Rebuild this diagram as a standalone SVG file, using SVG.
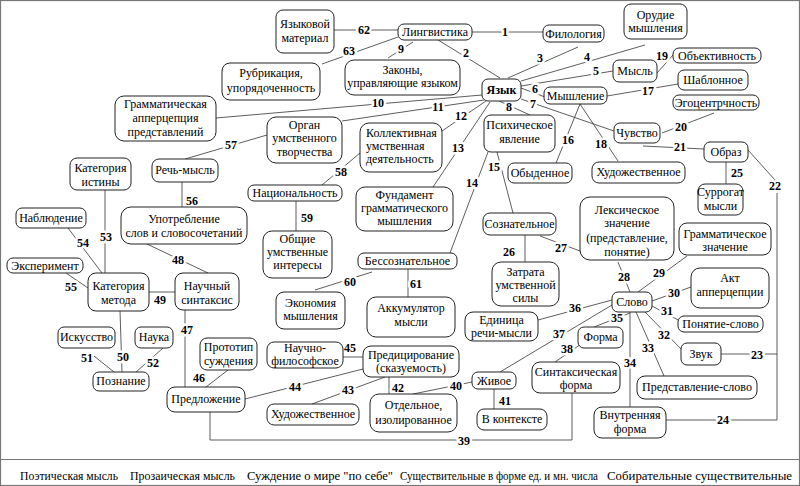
<svg xmlns="http://www.w3.org/2000/svg" width="800" height="486" viewBox="0 0 800 486">
<style>
text{font-family:"Liberation Serif","Times New Roman",serif;font-size:12px;fill:#000}
.n rect{fill:#fff;stroke:#222;stroke-width:1}
.n text{text-anchor:middle}
.n text.s{text-anchor:start}
.c path{stroke:#333;stroke-width:0.8;fill:none}
.l text{font-weight:bold;text-anchor:middle;paint-order:stroke;stroke:#fff;stroke-width:5px;stroke-linejoin:round}
.f{stroke:#777;stroke-width:1.2;fill:none}
#footer text{font-size:11.8px}
</style>
<rect class="f" x="0.5" y="0.5" width="799" height="485"/>
<path class="f" d="M0,459.5H800"/>
<g class="c">
<path d="M472,32H543"/><path d="M334,30H398"/><path d="M398,37L322,64"/><path d="M413,42L388,58"/><path d="M438,40L500,78"/>
<path d="M508,78L578,47"/><path d="M521,81L645,45"/><path d="M521,86L613,71"/><path d="M521,88L545,97"/><path d="M521,99L614,131"/>
<path d="M499,101L530,115"/><path d="M482,95L216,118"/><path d="M484,100L342,121"/><path d="M486,101L442,131"/><path d="M490,102L433,187"/>
<path d="M488,152L450,253"/><path d="M497,152L513,213"/><path d="M580,104L556,163"/><path d="M607,96L678,84"/><path d="M580,104L618,161"/>
<path d="M657,73L673,55"/><path d="M662,133L714,113"/><path d="M643,146L704,149"/><path d="M748,150L775,180M777,193V420H666"/><path d="M721,354H777"/>
<path d="M726,162V184"/><path d="M525,235V262"/><path d="M540,236L580,251"/><path d="M618,262L630,292"/><path d="M687,256L638,292"/>
<path d="M652,301L691,287"/><path d="M652,306L680,321"/><path d="M645,312L682,350"/><path d="M636,312L664,376"/><path d="M630,312V407"/>
<path d="M630,313L594,327"/><path d="M612,300L538,320"/><path d="M612,305L500,372"/><path d="M584,342L555,362"/><path d="M210,412V440H572V393"/>
<path d="M472,382L413,394"/><path d="M494,389V409"/><path d="M389,377V394"/><path d="M312,404L385,377"/><path d="M245,399L363,369"/>
<path d="M343,357H363"/><path d="M228,370L206,387"/><path d="M185,310V387"/><path d="M147,244L208,273"/><path d="M149,292H175"/>
<path d="M120,311L122,372"/><path d="M94,356L114,372"/><path d="M163,348L136,372"/><path d="M105,190V273"/><path d="M68,228L102,273"/>
<path d="M66,273L88,288"/><path d="M182,182V207"/><path d="M267,135L185,159"/><path d="M360,153L322,185"/><path d="M296,201V231"/>
<path d="M372,272L315,290"/><path d="M408,269V297"/>
</g>
<g class="l">
<text x="505" y="36">1</text><text x="364" y="34">62</text><text x="349" y="55">63</text><text x="401" y="53">9</text><text x="466" y="57">2</text>
<text x="540" y="62">3</text><text x="587" y="61">4</text><text x="596" y="75">5</text><text x="535" y="93">6</text><text x="533" y="108">7</text>
<text x="509" y="111">8</text><text x="378" y="107">10</text><text x="438" y="111">11</text><text x="461" y="120">12</text><text x="458" y="152">13</text>
<text x="472" y="187">14</text><text x="494" y="171">15</text><text x="568" y="144">16</text><text x="648" y="95">17</text><text x="601" y="148">18</text>
<text x="662" y="60">19</text><text x="681" y="131">20</text><text x="680" y="151">21</text><text x="775" y="190">22</text><text x="757" y="359">23</text>
<text x="723" y="424">24</text><text x="737" y="177">25</text><text x="509" y="256">26</text><text x="561" y="252">27</text><text x="624" y="281">28</text>
<text x="659" y="277">29</text><text x="674" y="297">30</text><text x="667" y="315">31</text><text x="664" y="339">32</text><text x="648" y="352">33</text>
<text x="630" y="367">34</text><text x="617" y="322">35</text><text x="575" y="312">36</text><text x="559" y="338">37</text><text x="567" y="353">38</text>
<text x="464" y="445">39</text><text x="456" y="390">40</text><text x="505" y="405">41</text><text x="398" y="392">42</text><text x="348" y="394">43</text>
<text x="295" y="391">44</text><text x="350" y="352">45</text><text x="199" y="382">46</text><text x="187" y="334">47</text><text x="178" y="264">48</text>
<text x="160" y="304">49</text><text x="123" y="361">50</text><text x="87" y="362">51</text><text x="153" y="367">52</text><text x="106" y="241">53</text>
<text x="83" y="247">54</text><text x="71" y="291">55</text><text x="192" y="205">56</text><text x="231" y="149">57</text><text x="341" y="176">58</text>
<text x="307" y="222">59</text><text x="350" y="286">60</text><text x="416" y="288">61</text>
</g>
<g id="n1" class="n"><rect x="276" y="10" width="58" height="43" rx="7"/><text x="305" y="28">Языковой</text><text x="305" y="42">материал</text></g>
<g id="n2" class="n"><rect x="398" y="24" width="74" height="16" rx="6"/><text x="435" y="36">Лингвистика</text></g>
<g id="n3" class="n"><rect x="543" y="25" width="61" height="17" rx="6"/><text x="573.5" y="38">Филология</text></g>
<g id="n4" class="n"><rect x="624" y="4" width="63" height="35" rx="7"/><text x="655.5" y="19">Орудие</text><text x="655.5" y="32">мышления</text></g>
<g id="n5" class="n"><rect x="673" y="48" width="88" height="15" rx="6"/><text x="717" y="60">Объективность</text></g>
<g id="n6" class="n"><rect x="613" y="60" width="44" height="22" rx="6"/><text x="635" y="75">Мысль</text></g>
<g id="n7" class="n"><rect x="678" y="70" width="70" height="20" rx="6"/><text x="713" y="84">Шаблонное</text></g>
<g id="n8" class="n"><rect x="673" y="95" width="86" height="15" rx="6"/><text x="716" y="107">Эгоцентрчность</text></g>
<g id="n9" class="n"><rect x="544" y="87" width="63" height="17" rx="6"/><text x="575.5" y="100">Мышление</text></g>
<g id="n10" class="n"><rect x="614" y="123" width="46" height="20" rx="6"/><text x="637" y="137">Чувство</text></g>
<g id="n11" class="n"><rect x="704" y="142" width="44" height="20" rx="6"/><text x="726" y="156">Образ</text></g>
<g id="n12" class="n"><rect x="698" y="184" width="45" height="31" rx="7"/><text x="720.5" y="196">Суррогат</text><text x="720.5" y="210">мысли</text></g>
<g id="n13" class="n"><rect x="592" y="162" width="93" height="21" rx="7"/><text x="638.5" y="176">Художественное</text></g>
<g id="n14" class="n"><rect x="508" y="163" width="64" height="20" rx="6"/><text x="540" y="177">Обыденное</text></g>
<g id="n15" class="n"><rect x="484" y="115" width="71" height="37" rx="7"/><text x="519.5" y="129">Психическое</text><text x="519.5" y="143">явление</text></g>
<g id="n16" class="n"><rect x="482" y="79" width="39" height="22" rx="6"/><text x="501.5" y="94" font-weight="bold">Язык</text></g>
<g id="n17" class="n"><rect x="345" y="60" width="115" height="35" rx="9"/><text x="402.5" y="74">Законы,</text><text x="402.5" y="87">управляющие языком</text></g>
<g id="n18" class="n"><rect x="222" y="63" width="98" height="37" rx="8"/><text x="271" y="77">Рубрикация,</text><text x="271" y="92">упорядоченность</text></g>
<g id="n19" class="n"><rect x="115" y="96" width="101" height="45" rx="9"/><text x="165.5" y="108">Грамматическая</text><text x="165.5" y="122">апперцепция</text><text x="165.5" y="136">представлений</text></g>
<g id="n20" class="n"><rect x="267" y="117" width="75" height="46" rx="9"/><text x="304.5" y="129">Орган</text><text x="304.5" y="142">умственного</text><text x="304.5" y="156">творчества</text></g>
<g id="n21" class="n"><rect x="360" y="123" width="82" height="49" rx="9"/><text class="s" x="366" y="137">Коллективная</text><text class="s" x="366" y="150">умственная</text><text class="s" x="366" y="163">деятельность</text></g>
<g id="n22" class="n"><rect x="356" y="187" width="97" height="44" rx="9"/><text x="404.5" y="199">Фундамент</text><text x="404.5" y="212">грамматического</text><text x="404.5" y="225">мышления</text></g>
<g id="n23" class="n"><rect x="70" y="158" width="61" height="32" rx="7"/><text x="100.5" y="172">Категория</text><text x="100.5" y="186">истины</text></g>
<g id="n24" class="n"><rect x="152" y="159" width="66" height="23" rx="7"/><text x="185" y="174">Речь-мысль</text></g>
<g id="n25" class="n"><rect x="248" y="185" width="94" height="16" rx="6"/><text x="295" y="197">Национальность</text></g>
<g id="n26" class="n"><rect x="16" y="208" width="70" height="20" rx="6"/><text x="51" y="222">Наблюдение</text></g>
<g id="n27" class="n"><rect x="121" y="207" width="126" height="37" rx="10"/><text x="184" y="223">Употребление</text><text x="184" y="237">слов и словосочетаний</text></g>
<g id="n28" class="n"><rect x="263" y="231" width="69" height="47" rx="9"/><text x="297.5" y="243">Общие</text><text x="297.5" y="256">умственные</text><text x="297.5" y="269">интересы</text></g>
<g id="n29" class="n"><rect x="483" y="213" width="73" height="22" rx="7"/><text x="519.5" y="228">Сознательное</text></g>
<g id="n30" class="n"><rect x="580" y="197" width="94" height="63" rx="10"/><text x="627" y="214">Лексическое</text><text x="627" y="227">значение</text><text x="627" y="242">(представление,</text><text x="627" y="256">понятие)</text></g>
<g id="n31" class="n"><rect x="679" y="223" width="92" height="32" rx="8"/><text x="725" y="238">Грамматическое</text><text x="725" y="251">значение</text></g>
<g id="n32" class="n"><rect x="358" y="253" width="99" height="16" rx="6"/><text x="407.5" y="265">Бессознательное</text></g>
<g id="n33" class="n"><rect x="7" y="258" width="76" height="15" rx="6"/><text x="45" y="270">Эксперимент</text></g>
<g id="n34" class="n"><rect x="88" y="273" width="61" height="38" rx="8"/><text x="118.5" y="290">Категория</text><text x="118.5" y="304">метода</text></g>
<g id="n35" class="n"><rect x="175" y="273" width="64" height="37" rx="8"/><text x="207" y="290">Научный</text><text x="207" y="304">синтаксис</text></g>
<g id="n36" class="n"><rect x="276" y="292" width="69" height="37" rx="8"/><text x="310.5" y="307">Экономия</text><text x="310.5" y="320">мышления</text></g>
<g id="n37" class="n"><rect x="367" y="297" width="88" height="40" rx="9"/><text x="411" y="312">Аккумулятор</text><text x="411" y="326">мысли</text></g>
<g id="n38" class="n"><rect x="492" y="262" width="67" height="44" rx="9"/><text x="525.5" y="276">Затрата</text><text x="525.5" y="289">умственной</text><text x="525.5" y="302">силы</text></g>
<g id="n39" class="n"><rect x="691" y="268" width="78" height="40" rx="9"/><text x="730" y="282">Акт</text><text x="730" y="296">апперцепции</text></g>
<g id="n40" class="n"><rect x="612" y="292" width="40" height="20" rx="6"/><text x="632" y="306">Слово</text></g>
<g id="n41" class="n"><rect x="465" y="312" width="73" height="29" rx="8"/><text x="501.5" y="324">Единица</text><text x="501.5" y="337">речи-мысли</text></g>
<g id="n42" class="n"><rect x="678" y="316" width="85" height="16" rx="6"/><text x="720.5" y="328">Понятие-слово</text></g>
<g id="n43" class="n"><rect x="578" y="327" width="45" height="21" rx="6"/><text x="600.5" y="341">Форма</text></g>
<g id="n44" class="n"><rect x="681" y="343" width="40" height="22" rx="6"/><text x="701" y="358">Звук</text></g>
<g id="n45" class="n"><rect x="58" y="327" width="57" height="21" rx="6"/><text x="86.5" y="341">Искусство</text></g>
<g id="n46" class="n"><rect x="135" y="327" width="38" height="21" rx="6"/><text x="154" y="341">Наука</text></g>
<g id="n47" class="n"><rect x="200" y="338" width="57" height="32" rx="7"/><text x="228.5" y="351">Прототип</text><text x="228.5" y="365">суждения</text></g>
<g id="n48" class="n"><rect x="267" y="342" width="76" height="26" rx="7"/><text x="305" y="352">Научно-</text><text x="305" y="365">философское</text></g>
<g id="n49" class="n"><rect x="363" y="346" width="96" height="31" rx="8"/><text x="411" y="359">Предицирование</text><text x="411" y="372">(сказуемость)</text></g>
<g id="n50" class="n"><rect x="93" y="372" width="56" height="19" rx="6"/><text x="121" y="385">Познание</text></g>
<g id="n51" class="n"><rect x="167" y="387" width="78" height="25" rx="8"/><text x="206" y="403">Предложение</text></g>
<g id="n52" class="n"><rect x="472" y="372" width="44" height="17" rx="6"/><text x="494" y="385">Живое</text></g>
<g id="n53" class="n"><rect x="532" y="362" width="88" height="31" rx="8"/><text x="576" y="376">Синтаксическая</text><text x="576" y="389">форма</text></g>
<g id="n54" class="n"><rect x="637" y="376" width="120" height="23" rx="8"/><text x="697" y="391">Представление-слово</text></g>
<g id="n55" class="n"><rect x="267" y="404" width="92" height="21" rx="7"/><text x="313" y="418">Художественное</text></g>
<g id="n56" class="n"><rect x="370" y="394" width="87" height="38" rx="9"/><text x="413.5" y="409">Отдельное,</text><text x="413.5" y="424">изолированное</text></g>
<g id="n57" class="n"><rect x="477" y="409" width="70" height="21" rx="7"/><text x="512" y="423">В контексте</text></g>
<g id="n58" class="n"><rect x="594" y="407" width="72" height="31" rx="8"/><text x="630" y="419">Внутренняя</text><text x="630" y="433">форма</text></g>
<g id="footer">
<text x="20" y="480" textLength="98" lengthAdjust="spacingAndGlyphs">Поэтическая мысль</text>
<text x="130" y="480" textLength="105" lengthAdjust="spacingAndGlyphs">Прозаическая мысль</text>
<text x="247" y="480" textLength="146" lengthAdjust="spacingAndGlyphs">Суждение о мире "по себе"</text>
<text x="400" y="480" textLength="198" lengthAdjust="spacingAndGlyphs">Существительные в форме ед. и мн. числа</text>
<text x="607" y="480" textLength="185" lengthAdjust="spacingAndGlyphs">Собирательные существительные</text>
</g>
</svg>
